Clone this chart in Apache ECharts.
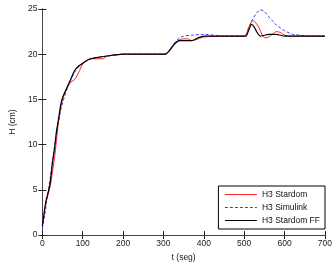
<!DOCTYPE html>
<html><head><meta charset="utf-8">
<script src="https://cdn.jsdelivr.net/npm/echarts@6/dist/echarts.min.js"></script>
<style>html,body{margin:0;padding:0;background:#fff}#c{width:335px;height:267px}</style>
</head><body><div id="c"></div>
<script>
const xTicks = [0,100,200,300,400,500,600,700];
const yTicks = [0,5,10,15,20,25];
const seriesNames = ['H3 Stardom','H3 Simulink','H3 Stardom FF'];
const tStardom = [0,5,10,15,20,25,30,35,40,45,50,60,70,80,90,100,110,120,135,150,160,180,200,250,300,310,320,330,340,350,360,370,380,400,450,500,505,510,517,523,530,537,545,552,560,570,580,590,600,620,650,700];
const hStardom = [1,2.5,3.8,4.6,5.5,7,8.5,10.5,12.5,14,15,16.2,16.9,17.2,18,18.9,19.3,19.5,19.5,19.5,19.8,19.9,20,20,20,20.2,20.7,21.3,21.6,21.7,21.7,21.5,21.6,21.9,22,22,22.2,22.8,23.5,23.7,23.4,22.9,22.1,21.8,21.9,22.2,22.5,22.4,22.1,22,22,22];
const tSimulink = [0,5,10,15,20,25,30,35,40,45,50,60,70,80,90,100,120,150,200,250,300,310,320,330,340,350,370,400,450,500,505,510,520,530,540,550,560,570,580,590,600,620,640,660,700];
const hSimulink = [0.7,2,3.5,5,6.5,8.2,9.8,11.2,12.5,13.7,14.6,16,17.1,18,18.6,19,19.5,19.7,20,20,20,20.2,20.8,21.4,21.8,22,22.1,22.2,22,22,22.2,22.8,23.8,24.5,24.9,24.7,24.2,23.7,23.2,22.9,22.6,22.2,22.1,22,22];
const tFF = [0,3,6,10,15,20,25,30,35,40,45,50,60,70,80,90,100,110,120,130,160,200,250,300,305,315,325,335,340,350,370,385,400,450,500,505,510,518,525,532,540,550,560,580,590,600,650,700];
const hFF = [1,2,3,4,4.8,6,8,9.5,11.5,12.8,14.3,15.2,16.2,17.2,18.2,18.7,19,19.3,19.5,19.6,19.8,20,20,20,20,20.4,21,21.4,21.5,21.5,21.5,21.8,22,22,22,22,22.5,23.3,23,22.4,22,22.1,22.2,22.2,22.1,22,22,22];
function pairs(t,h){return t.map((v,i)=>[v,h[i]]);}
const chart = echarts.init(document.getElementById('c'),null,{renderer:'canvas'});
const axisCommon = {
  axisLine:{show:true,lineStyle:{color:'#444',width:1}},
  axisTick:{show:true,inside:true,length:4,lineStyle:{color:'#222'}},
  splitLine:{show:false}
};
const font = {fontFamily:'Liberation Sans, Arial, sans-serif',fontSize:8.5,color:'#222'};
chart.setOption({
  animation:false,
  backgroundColor:'#fff',
  grid:{left:33,right:10,top:9,bottom:29},
  legend:{
    data:seriesNames,orient:'vertical',right:10,bottom:38,
    backgroundColor:'#fff',borderColor:'#000',borderWidth:1,
    padding:[4,5,4,6],itemGap:4,itemWidth:32,itemHeight:8,
    itemStyle:{opacity:0},
    lineStyle:{width:1},
    textStyle:{fontFamily:font.fontFamily,fontSize:8.5,color:'#111'}
  },
  xAxis:[
    Object.assign({type:'value',min:0,max:700,interval:100,position:'bottom',
      name:'t (seg)',nameLocation:'middle',nameGap:14,nameTextStyle:font,
      axisLabel:Object.assign({margin:4},font)},axisCommon),
    Object.assign({type:'value',min:0,max:700,interval:100,position:'top',axisLabel:{show:false}},axisCommon)
  ],
  yAxis:[
    Object.assign({type:'value',min:0,max:25,interval:5,position:'left',
      name:'H (cm)',nameLocation:'middle',nameGap:19,nameTextStyle:font,
      axisLabel:Object.assign({margin:5},font)},axisCommon),
    Object.assign({type:'value',min:0,max:25,interval:5,position:'right',axisLabel:{show:false}},axisCommon)
  ],
  series:[
    {name:seriesNames[0],type:'line',symbol:'none',smooth:0.3,data:pairs(tStardom,hStardom),
      lineStyle:{color:'#ff2020',width:1},itemStyle:{color:'#ff2020'},z:3},
    {name:seriesNames[1],type:'line',symbol:'none',smooth:0.3,data:pairs(tSimulink,hSimulink),
      lineStyle:{color:'#3040ff',width:1,type:[3,2]},itemStyle:{color:'#3040ff'},z:2},
    {name:seriesNames[2],type:'line',symbol:'none',smooth:0.2,data:pairs(tFF,hFF),
      lineStyle:{color:'#000',width:1.2},itemStyle:{color:'#000'},z:4}
  ]
});
</script></body></html>
